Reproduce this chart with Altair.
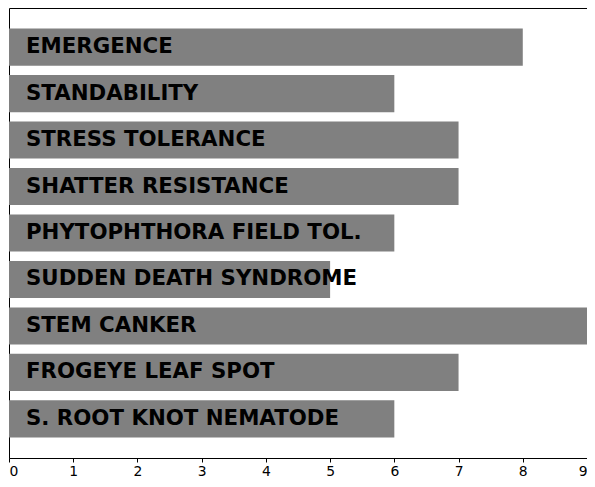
import altair as alt
import pandas as pd

traits = ["EMERGENCE", "STANDABILITY", "STRESS TOLERANCE", "SHATTER RESISTANCE",
          "PHYTOPHTHORA FIELD TOL.", "SUDDEN DEATH SYNDROME", "STEM CANKER",
          "FROGEYE LEAF SPOT", "S. ROOT KNOT NEMATODE"]
scores = [8, 6, 7, 7, 6, 5, 9, 7, 6]
ticks = list(range(0, 10))

df = pd.DataFrame({"trait": traits, "score": scores, "zero": [0] * len(traits)})

yenc = alt.Y("trait:N", sort=traits, axis=None,
             scale=alt.Scale(paddingInner=0.2, paddingOuter=0.44))

bars = alt.Chart(df).mark_bar(color="#808080").encode(
    x=alt.X("score:Q",
            scale=alt.Scale(domain=[0, 9], nice=False),
            axis=alt.Axis(values=ticks, title=None, grid=False, labelFont="DejaVu Sans",
                          labelFontSize=13.9, labelColor="black", tickColor="black",
                          domainColor="black", tickSize=4, labelPadding=2,
                          labelFlush=True, format="d")),
    y=yenc,
)

labels = alt.Chart(df).mark_text(align="left", baseline="middle", dx=17,
                                 font="DejaVu Sans", fontWeight="bold",
                                 fontSize=21.3, color="black").encode(
    x="zero:Q",
    y=yenc,
    text="trait:N",
)

chart = (bars + labels).properties(
    width=578, height=450,
    autosize=alt.AutoSizeParams(type="none"),
    padding={"left": 1, "top": 0, "right": 0, "bottom": 21},
).configure_view(stroke="black", strokeWidth=1)

chart.save("out.html", embed_options={"renderer": "svg", "actions": False})
